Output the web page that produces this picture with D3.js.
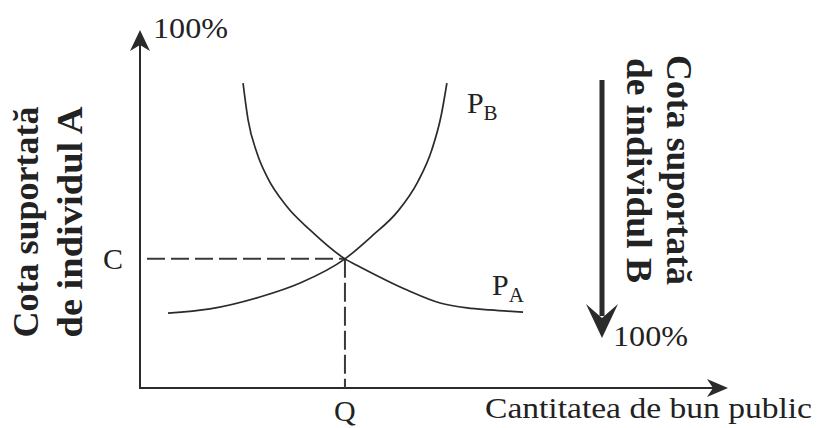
<!DOCTYPE html>
<html>
<head>
<meta charset="utf-8">
<script src="https://cdn.jsdelivr.net/npm/d3@7"></script>
<style>
  html, body { margin: 0; padding: 0; background: #fff; }
  svg { display: block; }
  text { font-family: "Liberation Serif", "Times New Roman", serif; fill: #222; }
</style>
</head>
<body>
<svg id="chart" width="817" height="428"></svg>
<script>
// ---- data (quantity of public good 0–100, share borne by A 0–100 %) ----
const pbQuantity = [5.0, 12.5, 21.4, 28.6, 36.6, 41.4, 46.1, 49.6, 52.1, 53.8, 54.8];
const pbShare    = [21.4, 22.6, 26.0, 30.0, 36.9, 43.4, 50.6, 58.9, 68.0, 78.0, 87.1];
const paQuantity = [18.4, 19.3, 20.9, 22.7, 26.3, 30.4, 36.6, 39.3, 47.7, 53.6, 58.4, 62.5, 68.4];
const paShare    = [87.1, 76.6, 67.1, 60.3, 51.7, 45.1, 36.9, 34.6, 28.0, 24.3, 22.9, 22.3, 21.7];
const equilibrium = { q: 36.6, c: 36.9 };
const curveLabels = [
  { main: "P", sub: "B", series: "pb" },
  { main: "P", sub: "A", series: "pa" }
];
const topTick = "100%";
const bottomTick = "100%";
const xAxisTitle = "Cantitatea de bun public";
const leftTitle = ["Cota suportată", "de individul A"];
const rightTitle = ["Cota suportată", "de individul B"];
const eqLabels = { q: "Q", c: "C" };

// ---- layout ----
const svg = d3.select("#chart");
const originX = 140, originY = 388;
const x = d3.scaleLinear().domain([0, 100]).range([originX, 700]);
const y = d3.scaleLinear().domain([0, 100]).range([originY, 38]);
const ink = "#2b2b2b";

// axes
const yTip = 30, xTip = 728;
svg.append("line").attr("x1", originX).attr("y1", originY + 1).attr("x2", originX).attr("y2", yTip + 14)
  .attr("stroke", ink).attr("stroke-width", 2);
svg.append("line").attr("x1", originX - 1).attr("y1", originY).attr("x2", xTip - 12).attr("y2", originY)
  .attr("stroke", ink).attr("stroke-width", 2);
// arrow heads
svg.append("path")
  .attr("d", `M${originX},${yTip} L${originX + 10},${yTip + 21} L${originX},${yTip + 15} L${originX - 10},${yTip + 21} Z`)
  .attr("fill", ink);
svg.append("path")
  .attr("d", `M${xTip},${originY} L${xTip - 21},${originY + 9} L${xTip - 15},${originY} L${xTip - 21},${originY - 9} Z`)
  .attr("fill", ink);

// dashed equilibrium guides
const ex = x(equilibrium.q), ey = y(equilibrium.c);
svg.append("line").attr("x1", originX + 7).attr("y1", ey).attr("x2", ex).attr("y2", ey)
  .attr("stroke", "#3a3a3a").attr("stroke-width", 2).attr("stroke-dasharray", "18,6");
svg.append("line").attr("x1", ex).attr("y1", ey).attr("x2", ex).attr("y2", originY)
  .attr("stroke", "#3a3a3a").attr("stroke-width", 2).attr("stroke-dasharray", "19,5");

// curves
const line = d3.line().x(d => x(d[0])).y(d => y(d[1])).curve(d3.curveMonotoneX);
const pb = d3.zip(pbQuantity, pbShare);
const pa = d3.zip(paQuantity, paShare);
svg.append("path").datum(pb).attr("d", line).attr("fill", "none").attr("stroke", ink).attr("stroke-width", 1.7);
svg.append("path").datum(pa).attr("d", line).attr("fill", "none").attr("stroke", ink).attr("stroke-width", 1.7);

// curve labels
function curveLabel(lbl, px, py) {
  const t = svg.append("text").attr("x", px).attr("y", py).attr("font-size", 30);
  t.append("tspan").text(lbl.main);
  t.append("tspan").attr("font-size", 21).attr("dy", 7).text(lbl.sub);
}
const pbEnd = pb[pb.length - 1], paEnd = pa[pa.length - 1];
curveLabel(curveLabels[0], x(pbEnd[0]) + 20, y(pbEnd[1]) + 30);
curveLabel(curveLabels[1], x(paEnd[0]) - 31, y(paEnd[1]) - 17);

// equilibrium labels
svg.append("text").attr("x", originX - 37).attr("y", ey + 10).attr("font-size", 30).text(eqLabels.c);
svg.append("text").attr("x", ex).attr("y", originY + 33).attr("font-size", 30)
  .attr("text-anchor", "middle").text(eqLabels.q);

// tick texts
svg.append("text").attr("x", originX + 13).attr("y", yTip + 8).attr("font-size", 29)
  .attr("textLength", 75).attr("lengthAdjust", "spacingAndGlyphs").text(topTick);

// x axis title
svg.append("text").attr("x", 485).attr("y", 418).attr("font-size", 29)
  .attr("textLength", 327).attr("lengthAdjust", "spacingAndGlyphs").text(xAxisTitle);

// left title (rotated, reading upward)
const leftBase = [38, 82];
leftTitle.forEach((s, i) => {
  svg.append("text")
    .attr("transform", `translate(${leftBase[i]},222) rotate(-90)`)
    .attr("text-anchor", "middle").attr("font-size", 35).attr("font-weight", "bold")
    .attr("textLength", 231).attr("lengthAdjust", "spacingAndGlyphs")
    .text(s);
});

// right title (rotated, reading downward)
const rightBase = [667, 627];
const rightLen = [230, 225];
rightTitle.forEach((s, i) => {
  svg.append("text")
    .attr("transform", `translate(${rightBase[i]},${55 + (i ? 3 : 0)}) rotate(90)`)
    .attr("font-size", 35).attr("font-weight", "bold")
    .attr("textLength", rightLen[i]).attr("lengthAdjust", "spacingAndGlyphs")
    .text(s);
});

// share-of-B arrow (downward)
const bx = 602, bTop = 80, bTip = 338;
svg.append("line").attr("x1", bx).attr("y1", bTop).attr("x2", bx).attr("y2", bTip - 22)
  .attr("stroke", ink).attr("stroke-width", 5);
svg.append("path")
  .attr("d", `M${bx},${bTip} L${bx - 16},${bTip - 34} L${bx},${bTip - 20} L${bx + 16},${bTip - 34} Z`)
  .attr("fill", ink);
svg.append("text").attr("x", bx + 11).attr("y", bTip + 8).attr("font-size", 29)
  .attr("textLength", 75).attr("lengthAdjust", "spacingAndGlyphs").text(bottomTick);
</script>
</body>
</html>
